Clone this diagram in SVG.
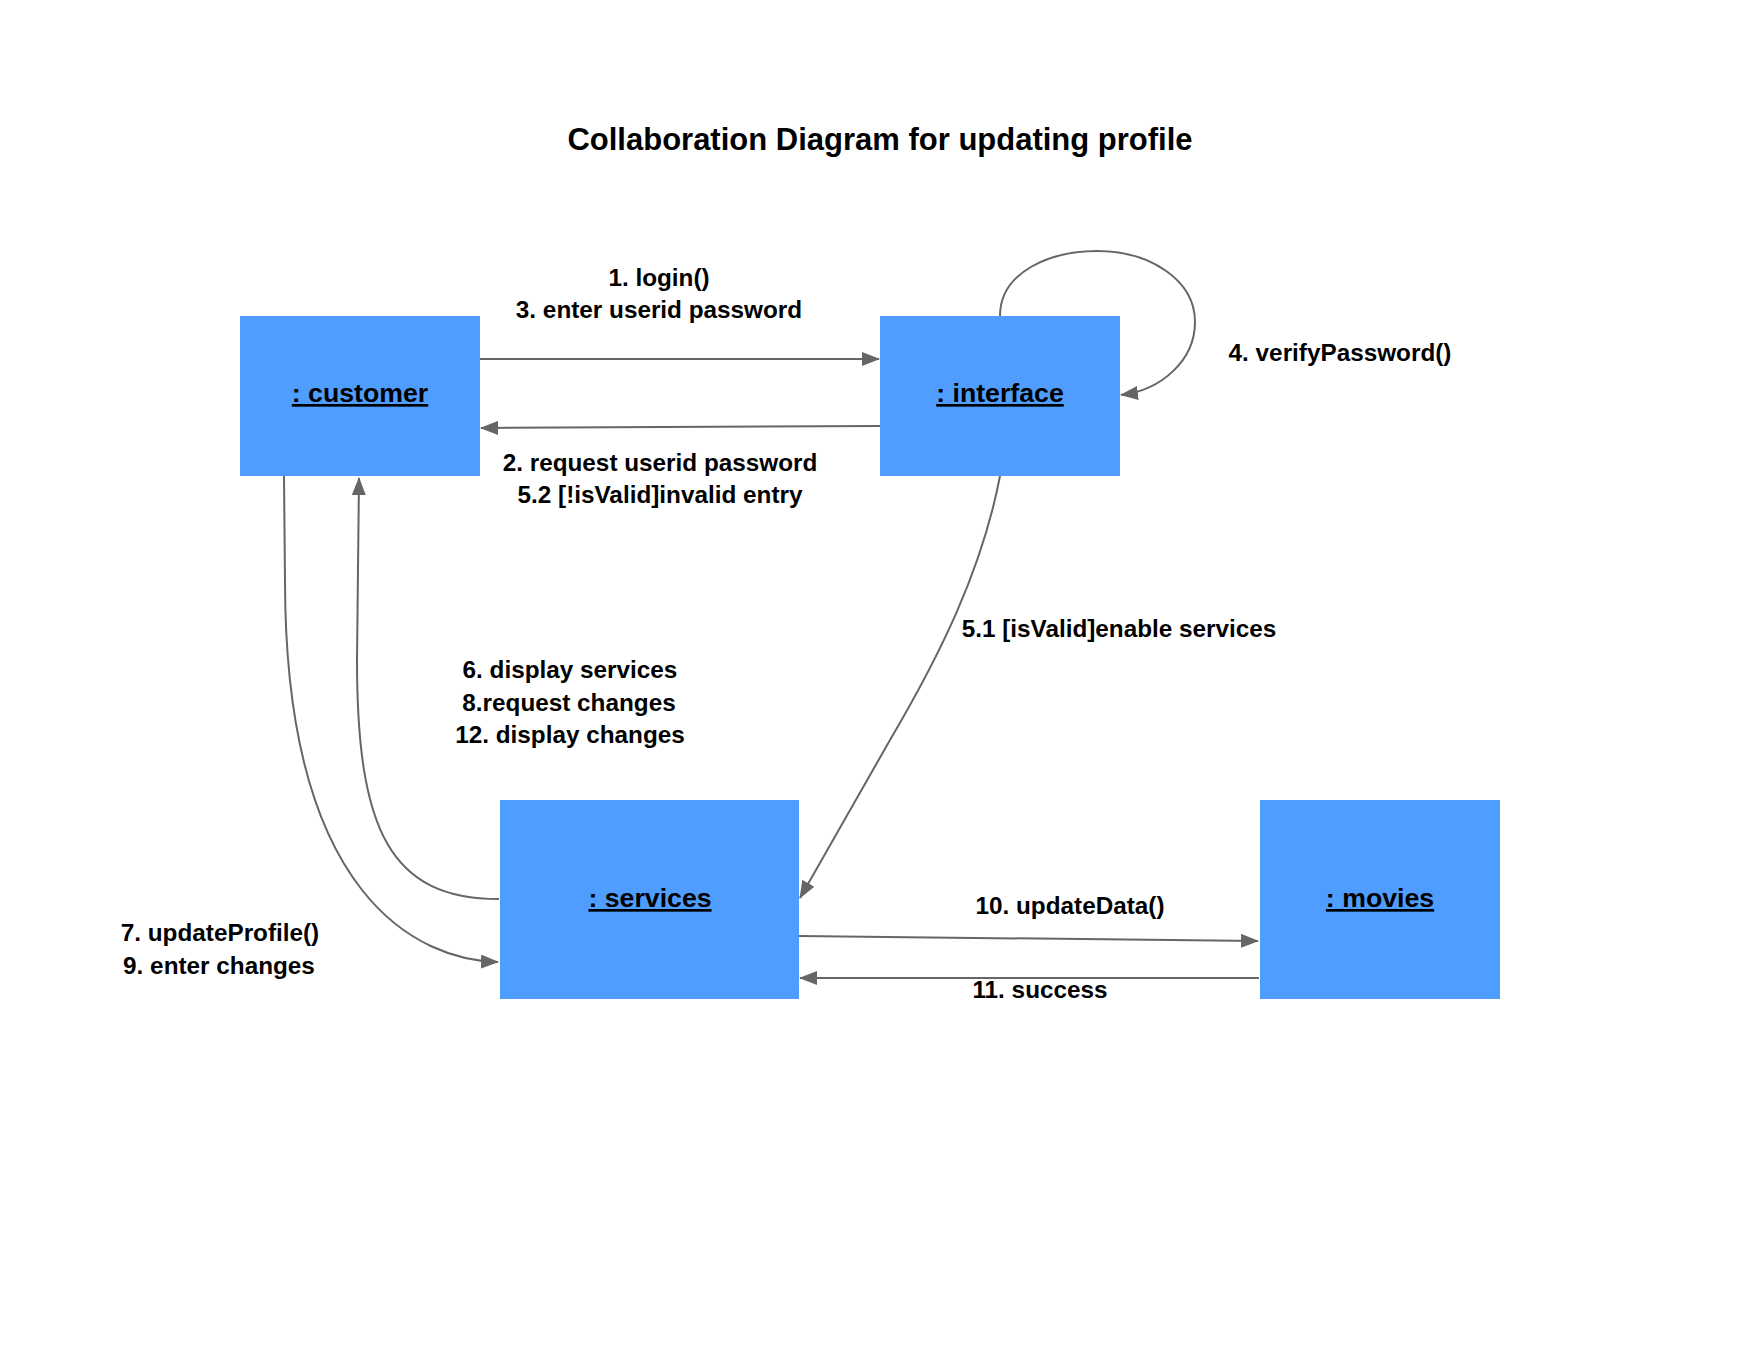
<svg xmlns="http://www.w3.org/2000/svg" width="1760" height="1360" viewBox="0 0 1760 1360">
<defs>
<style>
.node{fill:#4f9dff;}
.nl{font-family:"Liberation Sans",Arial,sans-serif;font-weight:bold;font-size:26.7px;fill:#000;text-anchor:middle;text-decoration:underline;}
.lbl{font-family:"Liberation Sans",Arial,sans-serif;font-weight:bold;font-size:24.3px;fill:#000;text-anchor:middle;}
.title{font-family:"Liberation Sans",Arial,sans-serif;font-weight:bold;font-size:31px;fill:#000;text-anchor:middle;}
.edge{fill:none;stroke:#666;stroke-width:2;marker-end:url(#arr);}
</style>
<marker id="arr" viewBox="0 0 18 14" refX="17" refY="7" markerWidth="18" markerHeight="14" markerUnits="userSpaceOnUse" orient="auto">
<path d="M0,0 L18,7 L0,14 Z" fill="#666"/>
</marker>
</defs>
<rect width="1760" height="1360" fill="#fff"/>
<text class="title" x="880" y="150">Collaboration Diagram for updating profile</text>
<g id="connectors">
<path class="edge" d="M480,359 L879,359"/>
<path class="edge" d="M880,426 L481,428"/>
<path class="edge" d="M1000,316 C1000,272 1050,251 1097,251 C1150,251 1195,280 1195,322 C1195,360 1162,390 1121,395"/>
<path class="edge" d="M1000,476 C982,570 940,655 890,740 L800,898"/>
<path class="edge" d="M284,476 L285,580 C285,900 420,960 498,962"/>
<path class="edge" d="M499,899 C390,899 357,830 357,660 L359,478"/>
<path class="edge" d="M799,936 L1258,941"/>
<path class="edge" d="M1259,978 L800,978"/>
</g>
<g id="customer">
<rect class="node" x="240" y="316" width="240" height="160"/>
<text class="nl" x="360" y="402">: customer</text>
</g>
<g id="interface">
<rect class="node" x="880" y="316" width="240" height="160"/>
<text class="nl" x="1000" y="402">: interface</text>
</g>
<g id="services">
<rect class="node" x="500" y="800" width="299" height="199"/>
<text class="nl" x="650" y="907">: services</text>
</g>
<g id="movies">
<rect class="node" x="1260" y="800" width="240" height="199"/>
<text class="nl" x="1380" y="907">: movies</text>
</g>
<g id="labels">
<text class="lbl" x="659" y="286">1. login()</text>
<text class="lbl" x="659" y="318">3. enter userid password</text>
<text class="lbl" x="660" y="471">2. request userid password</text>
<text class="lbl" x="660" y="503">5.2 [!isValid]invalid entry</text>
<text class="lbl" x="1340" y="361">4. verifyPassword()</text>
<text class="lbl" x="1119" y="637">5.1 [isValid]enable services</text>
<text class="lbl" x="570" y="678">6. display services</text>
<text class="lbl" x="569" y="711">8.request changes</text>
<text class="lbl" x="570" y="743">12. display changes</text>
<text class="lbl" x="220" y="941">7. updateProfile()</text>
<text class="lbl" x="219" y="974">9. enter changes</text>
<text class="lbl" x="1070" y="914">10. updateData()</text>
<text class="lbl" x="1040" y="998">11. success</text>
</g>
</svg>
